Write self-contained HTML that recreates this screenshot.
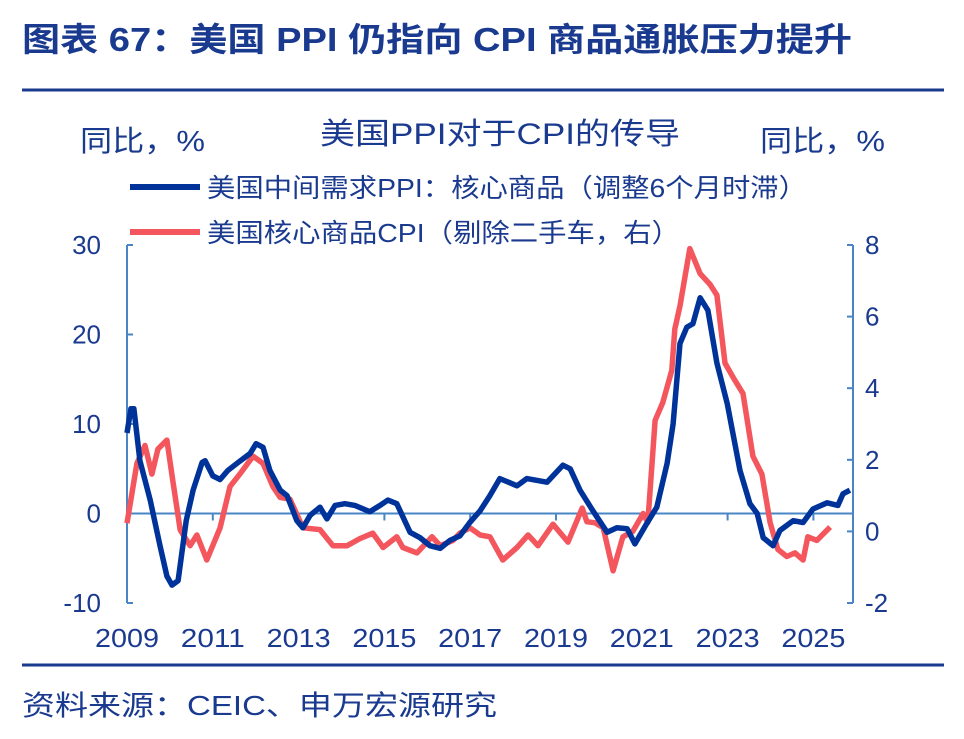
<!DOCTYPE html>
<html><head><meta charset="utf-8"><style>
body{margin:0;background:#fff;width:964px;height:734px;overflow:hidden;font-family:"Liberation Sans","Noto Sans CJK SC",sans-serif;}
</style></head><body>
<svg id="c" width="964" height="734" xmlns="http://www.w3.org/2000/svg" style="font-family:'Liberation Sans','Noto Sans CJK SC',sans-serif">
<text x="22" y="51" font-size="33" font-weight="bold" fill="#1a3a8f" textLength="830" lengthAdjust="spacingAndGlyphs">图表 67：美国 PPI 仍指向 CPI 商品通胀压力提升</text>
<line x1="22" y1="90" x2="944" y2="90" stroke="#1a3a8f" stroke-width="3"/>
<line x1="22" y1="665" x2="944" y2="665" stroke="#1a3a8f" stroke-width="3"/>
<text x="22" y="715" font-size="28" fill="#1a3a8f" textLength="475" lengthAdjust="spacingAndGlyphs">资料来源：CEIC、申万宏源研究</text>
<text x="320" y="144" font-size="30" fill="#1a3a8f" textLength="360" lengthAdjust="spacingAndGlyphs">美国PPI对于CPI的传导</text>
<text x="80" y="151" font-size="29" fill="#1a3a8f" textLength="125" lengthAdjust="spacingAndGlyphs">同比，%</text>
<text x="760" y="151" font-size="29" fill="#1a3a8f" textLength="125" lengthAdjust="spacingAndGlyphs">同比，%</text>
<line x1="130" y1="187" x2="200" y2="187" stroke="#00339a" stroke-width="6"/>
<text x="207" y="197" font-size="26" fill="#1a3a8f" textLength="600" lengthAdjust="spacingAndGlyphs">美国中间需求PPI：核心商品（调整6个月时滞）</text>
<line x1="130" y1="232" x2="200" y2="232" stroke="#f4565e" stroke-width="6"/>
<text x="207" y="242" font-size="26" fill="#1a3a8f" textLength="473" lengthAdjust="spacingAndGlyphs">美国核心商品CPI（剔除二手车，右）</text>
<g id="axes"></g>
<g id="series"></g>
</svg>
<script>
const xTicks=[2009,2011,2013,2015,2017,2019,2021,2023,2025];
const leftTicks=[-10,0,10,20,30];
const rightTicks=[-2,0,2,4,6,8];
const ppiDates=[2009.00,2009.09,2009.16,2009.30,2009.54,2009.77,2009.93,2010.05,2010.19,2010.38,2010.54,2010.75,2010.82,2011.00,2011.17,2011.35,2011.59,2011.87,2012.01,2012.17,2012.33,2012.57,2012.73,2012.96,2013.10,2013.27,2013.50,2013.66,2013.85,2014.08,2014.31,2014.66,2014.90,2015.08,2015.29,2015.60,2015.83,2016.06,2016.30,2016.53,2016.76,2016.99,2017.23,2017.46,2017.69,2018.09,2018.32,2018.79,2019.16,2019.33,2019.56,2019.86,2020.19,2020.42,2020.66,2020.84,2021.12,2021.35,2021.59,2021.73,2021.89,2022.05,2022.19,2022.36,2022.54,2022.75,2022.99,2023.29,2023.52,2023.69,2023.83,2024.06,2024.22,2024.53,2024.76,2024.99,2025.32,2025.57,2025.69,2025.85];
const ppiValues=[9,11.7,11.7,5.9,1.5,-3.6,-7,-8,-7.5,-0.8,2.6,5.7,5.9,4.2,3.8,4.8,5.7,6.7,7.8,7.4,4.8,2.6,2,-0.8,-1.6,-0.2,0.7,-0.6,0.9,1.1,0.9,0.2,0.9,1.5,1.1,-2.1,-2.7,-3.6,-3.9,-3,-2.5,-1,0.3,2,3.9,3.1,3.9,3.5,5.4,5,2.6,0.3,-2.1,-1.6,-1.7,-3.4,-1.1,0.7,5.6,10,19,20.8,21.2,24.1,22.7,16.8,12.3,4.8,1.1,0,-2.7,-3.6,-1.9,-0.8,-1,0.5,1.2,0.9,2.2,2.6];
const cpiDates=[2009.00,2009.23,2009.42,2009.58,2009.72,2009.93,2010.07,2010.24,2010.47,2010.63,2010.86,2011.17,2011.40,2011.63,2011.94,2012.17,2012.40,2012.57,2012.80,2013.10,2013.50,2013.80,2014.13,2014.43,2014.73,2014.97,2015.29,2015.43,2015.76,2016.11,2016.30,2016.60,2016.76,2016.99,2017.23,2017.46,2017.76,2018.09,2018.35,2018.58,2018.93,2019.28,2019.61,2019.72,2019.91,2020.10,2020.33,2020.56,2020.79,2021.03,2021.14,2021.31,2021.49,2021.70,2021.77,2021.89,2022.12,2022.36,2022.59,2022.75,2022.94,2023.13,2023.36,2023.59,2023.80,2023.99,2024.17,2024.38,2024.57,2024.76,2024.87,2025.08,2025.39];
const cpiValues=[0.23,1.9,2.4,1.6,2.3,2.55,1.4,0.04,-0.4,-0.1,-0.8,0.1,1.25,1.6,2.1,1.9,1.25,0.95,0.9,0.1,0.05,-0.4,-0.4,-0.2,-0.05,-0.45,-0.15,-0.45,-0.6,-0.15,-0.4,-0.25,-0.05,0.1,-0.1,-0.15,-0.8,-0.45,-0.1,-0.4,0.2,-0.3,0.65,0.27,0.24,0.1,-1.1,-0.15,0,0.5,0.25,3.1,3.6,4.5,5.65,6.3,7.9,7.2,6.9,6.6,4.7,4.3,3.85,2.1,1.6,0.25,-0.5,-0.7,-0.6,-0.8,-0.15,-0.25,0.12];
const X0=127,X1=853,Y0=245,Y1=603;
const xs=y=>X0+(y-2009)*42.9;
const yl=v=>Y1-(v+10)/40*(Y1-Y0);
const yr=v=>Y1-(v+2)/10*(Y1-Y0);
const NS="http://www.w3.org/2000/svg";
const ax=document.getElementById('axes'),se=document.getElementById('series');
function mk(tag,attrs,parent){const e=document.createElementNS(NS,tag);for(const k in attrs)e.setAttribute(k,attrs[k]);parent.appendChild(e);return e;}
const AC="#4a86c5",TC="#1a3a8f";
let e;
e=mk('line',{x1:X0,y1:Y0,x2:X0,y2:Y1,stroke:AC,'stroke-width':2},ax);


e=mk('line',{x1:X1,y1:Y0,x2:X1,y2:Y1,stroke:AC,'stroke-width':2},ax);


e=mk('line',{x1:X0,y1:yl(0),x2:X1,y2:yl(0),stroke:AC,'stroke-width':2},ax);


leftTicks.forEach(v=>{
 mk('line',{x1:X0,y1:yl(v),x2:X0+6,y2:yl(v),stroke:AC,'stroke-width':2},ax);
 e=mk('text',{x:101,y:yl(v)+9,'font-size':26,fill:TC,'text-anchor':'end'},ax);e.textContent=v;
 
 
});
rightTicks.forEach(v=>{
 mk('line',{x1:X1-6,y1:yr(v),x2:X1,y2:yr(v),stroke:AC,'stroke-width':2},ax);
 e=mk('text',{x:865,y:yr(v)+9,'font-size':26,fill:TC},ax);e.textContent=v;
 
 
});
xTicks.forEach(v=>{
 mk('line',{x1:xs(v),y1:yl(0),x2:xs(v),y2:yl(0)+7,stroke:AC,'stroke-width':2},ax);
 e=mk('text',{x:xs(v)-32,y:647,'font-size':26,fill:TC,textLength:64,lengthAdjust:'spacingAndGlyphs'},ax);e.textContent=v;
 
 
});
const pc=cpiDates.map((d,i)=>xs(d).toFixed(1)+','+yr(cpiValues[i]).toFixed(1)).join(' ');
e=mk('polyline',{points:pc,fill:'none',stroke:'#f4565e','stroke-width':5.5,'stroke-linejoin':'round'},se);


const pp=ppiDates.map((d,i)=>xs(d).toFixed(1)+','+yl(ppiValues[i]).toFixed(1)).join(' ');
e=mk('polyline',{points:pp,fill:'none',stroke:'#00339a','stroke-width':5.5,'stroke-linejoin':'round'},se);


</script>
</body></html>
